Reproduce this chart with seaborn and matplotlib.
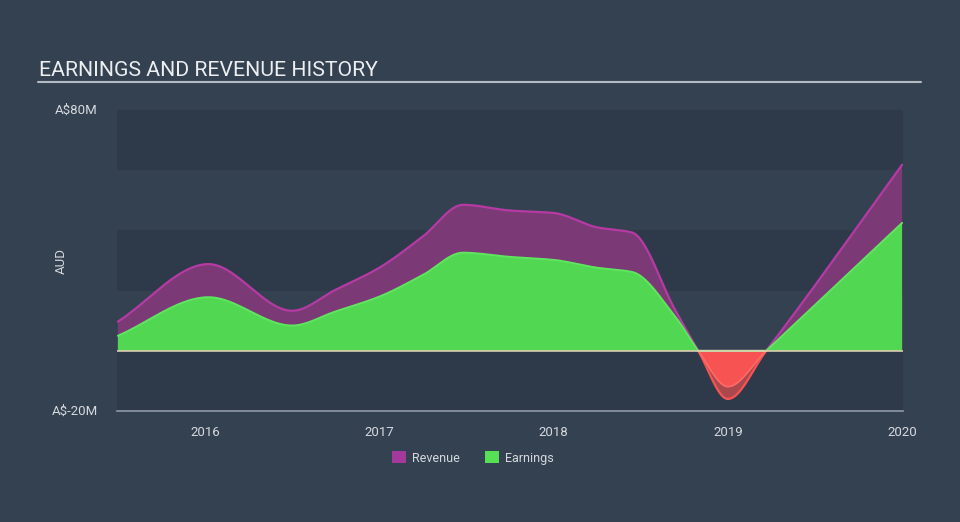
import numpy as np
import pandas as pd
import matplotlib
matplotlib.use("Agg")
import matplotlib.pyplot as plt
from matplotlib.patches import Patch
import seaborn as sns

# ---- data (A$ millions) ----
dates = [2015.5, 2016.02, 2016.5, 2016.75, 2017.0, 2017.25, 2017.48,
         2017.75, 2018.0, 2018.25, 2018.45, 2018.7, 2018.83, 2019.0, 2019.22, 2020.0]
revenue = [9.7, 28.8, 13.3, 20.3, 27.6, 38.0, 48.5,
           46.6, 45.8, 41.0, 39.3, 13.3, 0.0, -16.0, 0.0, 61.8]
earnings = [5.0, 17.8, 8.4, 13.1, 18.0, 25.2, 32.6,
            31.2, 30.2, 27.6, 26.2, 11.2, 0.0, -11.9, 0.0, 42.5]
year_ticks = [2016, 2017, 2018, 2019, 2020]
y_ticks = [-20, 80]
y_tick_labels = ["A$-20M", "A$80M"]

# ---- colours ----
BG = "#344151"
BAND = "#2e3a4a"
REV_FILL = "#7b3a76"
REV_LINE = "#b53aa3"
EARN_FILL = "#52d752"
EARN_LINE = "#5ee65e"
NEG = "#f65352"
TXT = "#d5d9de"


def monotone_curve(x, y, per_seg=60):
    """Monotone cubic (Fritsch-Carlson) rendering of the series."""
    x = np.asarray(x, float)
    y = np.asarray(y, float)
    n = len(x)
    h = np.diff(x)
    d = np.diff(y) / h
    m = np.zeros(n)
    m[0], m[-1] = d[0], d[-1]
    for k in range(1, n - 1):
        if d[k - 1] * d[k] <= 0:
            m[k] = 0.0
        else:
            w1 = 2 * h[k] + h[k - 1]
            w2 = h[k] + 2 * h[k - 1]
            m[k] = (w1 + w2) / (w1 / d[k - 1] + w2 / d[k])
    xs, ys = [], []
    for k in range(n - 1):
        s = np.linspace(0, 1, per_seg, endpoint=(k == n - 2))
        h00 = 2 * s**3 - 3 * s**2 + 1
        h10 = s**3 - 2 * s**2 + s
        h01 = -2 * s**3 + 3 * s**2
        h11 = s**3 - s**2
        xs.append(x[k] + s * h[k])
        ys.append(h00 * y[k] + h10 * h[k] * m[k] + h01 * y[k + 1] + h11 * h[k] * m[k + 1])
    return np.concatenate(xs), np.concatenate(ys)


tx, rv = monotone_curve(dates, revenue)
_, er = monotone_curve(dates, earnings)
df = pd.DataFrame({"t": tx, "rev": rv, "earn": er})
df["rev_pos"] = np.where(df.rev >= -1e-9, df.rev, np.nan)
df["rev_neg"] = np.where(df.rev <= 1e-9, df.rev, np.nan)
df["earn_pos"] = np.where(df.earn >= -1e-9, df.earn, np.nan)
df["earn_neg"] = np.where(df.earn <= 1e-9, df.earn, np.nan)

sns.set_theme(style="white")
plt.rcParams["font.family"] = ["Roboto", "DejaVu Sans"]

fig = plt.figure(figsize=(9.6, 5.22), dpi=100, facecolor=BG)
ax = fig.add_axes([117 / 960, 111 / 522, (903 - 117) / 960, (411 - 110) / 522])
ax.set_facecolor(BG)

# alternating bands
for lo, hi in [(60, 80), (20, 40), (-20, 0)]:
    ax.axhspan(lo, hi, color=BAND, lw=0, zorder=0)

# fills
ax.fill_between(df.t, 0, df.rev, where=df.rev >= 0, color=REV_FILL, lw=0, zorder=1)
ax.fill_between(df.t, 0, df.rev, where=df.rev <= 0, color=NEG, alpha=0.62, lw=0, zorder=1)
ax.fill_between(df.t, 0, df.earn, where=df.earn >= 0, color=EARN_FILL, lw=0, zorder=2)
ax.fill_between(df.t, 0, df.earn, where=df.earn <= 0, color=NEG, lw=0, zorder=2)

# lines
sns.lineplot(data=df, x="t", y="rev_pos", color=REV_LINE, lw=1.6, ax=ax, zorder=3, sort=False)
sns.lineplot(data=df, x="t", y="rev_neg", color=NEG, lw=1.6, ax=ax, zorder=3, sort=False)
sns.lineplot(data=df, x="t", y="earn_pos", color=EARN_LINE, lw=1.4, ax=ax, zorder=4, sort=False)
sns.lineplot(data=df, x="t", y="earn_neg", color="#ff6a66", lw=1.2, ax=ax, zorder=4, sort=False)

ax.axhline(0, color="#e8d8b8", lw=1.1, zorder=5)

ax.set_xlim(2015.495, 2020.005)
ax.set_ylim(-20, 80)
ax.set_xlabel("")
ax.set_ylabel("")

ax.set_xticks(year_ticks)
ax.set_xticklabels([str(y) for y in year_ticks])
ax.set_yticks(y_ticks)
ax.set_yticklabels(y_tick_labels)
ax.tick_params(axis="x", colors="#8d99a6", length=8, width=1, direction="out",
               labelcolor=TXT, labelsize=9.5, pad=3)
ax.tick_params(axis="y", length=0, labelcolor=TXT, labelsize=9.5, pad=14)
for lab in ax.get_yticklabels():
    lab.set_verticalalignment("center")

for s in ["top", "right", "left"]:
    ax.spines[s].set_visible(False)
ax.spines["bottom"].set_color("#8d99a6")
ax.spines["bottom"].set_linewidth(1.2)

fig.text(61 / 960, 1 - 261 / 522, "AUD", rotation=90, color=TXT, fontsize=9.5,
         ha="center", va="center")

# title + underline
fig.text(39 / 960, 1 - 76 / 522, "EARNINGS AND REVENUE HISTORY", color="#eceef0",
         fontsize=15.3, ha="left", va="baseline")
fig.add_artist(plt.Line2D([38 / 960, 921 / 960], [1 - 82 / 522, 1 - 82 / 522],
                          color="#b3bac2", lw=1.5, transform=fig.transFigure))

handles = [Patch(facecolor="#a3399b", edgecolor="none", label="Revenue"),
           Patch(facecolor="#55e055", edgecolor="none", label="Earnings")]
leg = fig.legend(handles=handles, loc="center", bbox_to_anchor=(473 / 960, 1 - 458 / 522),
                 ncol=2, frameon=False, handlelength=1.1, handleheight=1.1,
                 handletextpad=0.5, columnspacing=2.0, fontsize=9)
for t in leg.get_texts():
    t.set_color(TXT)

fig.savefig("out.png", dpi=100, facecolor=BG)
